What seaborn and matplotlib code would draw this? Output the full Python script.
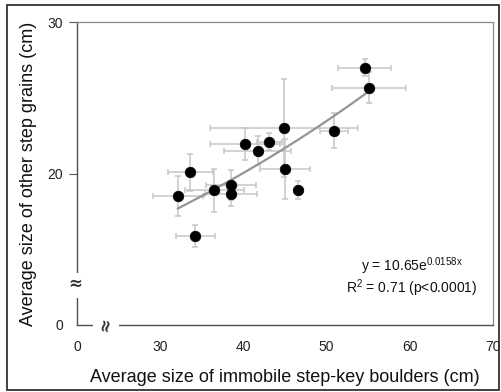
import numpy as np
import matplotlib
matplotlib.use("Agg")
import matplotlib.pyplot as plt
from matplotlib.patches import Rectangle
import seaborn as sns

# ---- data ----
boulder_size = [44.9, 40.2, 43.1, 41.7, 33.6, 45.0, 38.5, 36.5, 38.5, 32.1, 46.6, 34.2, 54.6, 55.1, 50.9]
grain_size = [23.0, 21.95, 22.1, 21.5, 20.07, 20.3, 19.25, 18.9, 18.66, 18.52, 18.9, 15.87, 26.98, 25.67, 22.83]
boulder_err = [8.9, 4.2, 1.5, 4.0, 2.7, 2.95, 3.0, 3.55, 3.1, 3.0, 0.4, 2.35, 3.2, 4.4, 1.7]
grain_err = [3.23, 1.08, 0.55, 0.96, 1.25, 2.0, 1.0, 1.43, 0.8, 1.3, 0.6, 0.7, 0.55, 1.02, 1.15]
fit_a = 10.65
fit_b = 0.0158
x_ticks = [0, 30, 40, 50, 60, 70]
y_ticks = [0, 20, 30]

sns.set_style("white")
plt.rcParams['font.family'] = ['Liberation Sans', 'DejaVu Sans']
plt.rcParams['mathtext.fontset'] = 'custom'
plt.rcParams['mathtext.rm'] = 'Liberation Sans'
plt.rcParams['mathtext.it'] = 'Liberation Sans:italic'

W, H = 502, 392
fig = plt.figure(figsize=(W / 100, H / 100), dpi=100)
L, R, T, B = 77, 493, 22, 325
ax = fig.add_axes([L / W, 1 - B / H, (R - L) / W, (B - T) / H])

# error bars
ax.errorbar(boulder_size, grain_size, xerr=boulder_err, yerr=grain_err, fmt='none',
            ecolor='#c6c6c6', elinewidth=1.1, capsize=2.5, capthick=1.1, zorder=1)

# fitted curve from the stated equation
xf = np.linspace(min(boulder_size), max(boulder_size), 100)
yf = fit_a * np.exp(fit_b * xf)
sns.lineplot(x=xf, y=yf, ax=ax, color='#959595', linewidth=1.6, zorder=2)

# points
sns.scatterplot(x=boulder_size, y=grain_size, ax=ax, color='black', s=58,
                edgecolor='black', linewidth=0.5, zorder=3)


# broken-axis scales
def fx(v):
    v = np.asarray(v, float)
    return np.where(v >= 25, v, 20 + v * 0.2)


def ix(v):
    v = np.asarray(v, float)
    return np.where(v >= 25, v, (v - 20) / 0.2)


def fy(v):
    v = np.asarray(v, float)
    return np.where(v >= 14, v, 10 + v * 4 / 14)


def iy(v):
    v = np.asarray(v, float)
    return np.where(v >= 14, v, (v - 10) * 14 / 4)


ax.set_xscale('function', functions=(fx, ix))
ax.set_yscale('function', functions=(fy, iy))
ax.set_xlim(0, 70)
ax.set_ylim(0, 30)
ax.set_xticks(x_ticks)
ax.set_xticklabels([str(t) for t in x_ticks])
ax.set_yticks(y_ticks)
ax.set_yticklabels([str(t) for t in y_ticks])
ax.minorticks_off()

ax.tick_params(axis='x', direction='in', length=4, width=0.8, color='#888888',
               labelsize=10, pad=11, labelcolor='#222222')
ax.tick_params(axis='y', direction='out', length=5.5, width=0.8, color='#555555',
               labelsize=10, pad=4.5, labelcolor='#222222', left=True)
ax.yaxis.get_major_ticks()[0].tick1line.set_visible(False)
xt = ax.xaxis.get_major_ticks()
xt[0].tick1line.set_visible(False)
xt[-1].tick1line.set_visible(False)

for side, col, lw in [('left', '#505050', 1.0), ('bottom', '#505050', 1.0),
                      ('top', '#8a8a8a', 0.9), ('right', '#8a8a8a', 0.9)]:
    ax.spines[side].set_visible(True)
    ax.spines[side].set_color(col)
    ax.spines[side].set_linewidth(lw)

ax.set_xlabel("Average size of immobile step-key boulders (cm)", fontsize=13,
              color='#111111', va='baseline')
ax.xaxis.set_label_coords(0.5, (B - 382) / (B - T))
ax.set_ylabel("Average size of other step grains (cm)", fontsize=13,
              color='#111111', va='center')
ax.yaxis.set_label_coords((28.5 - L) / (R - L), 0.5)

# axis break marks
ax.add_patch(Rectangle((-0.012, (B - 298) / (B - T)), 0.024, 25 / (B - T),
                       transform=ax.transAxes, facecolor='white', edgecolor='none',
                       clip_on=False, zorder=5))
ax.add_patch(Rectangle(((93 - L) / (R - L), -0.012), 26 / (R - L), 0.024,
                       transform=ax.transAxes, facecolor='white', edgecolor='none',
                       clip_on=False, zorder=5))
ax.text(-0.004, (B - 284) / (B - T), "≈", transform=ax.transAxes, ha='center', va='center',
        fontsize=12, fontweight='bold', family='DejaVu Sans', color='#333333', zorder=6,
        clip_on=False)
ax.text((105 - L) / (R - L), 0.0, "≈", transform=ax.transAxes, ha='center', va='center',
        fontsize=12, fontweight='bold', family='DejaVu Sans', color='#333333', zorder=6,
        rotation=80, clip_on=False)

# equation annotation
ax.text((412 - L) / (R - L), (B - 271) / (B - T), r"y = 10.65e$^{\mathrm{0.0158x}}$",
        transform=ax.transAxes, ha='center', va='baseline', fontsize=10, color='#111111')
ax.text((412 - L) / (R - L), (B - 293) / (B - T), r"R$^{\mathrm{2}}$ = 0.71 (p<0.0001)",
        transform=ax.transAxes, ha='center', va='baseline', fontsize=10, color='#111111')

# outer frame
fig.patches.append(Rectangle((7 / W, 1 - 390 / H), 492 / W, 385 / H, transform=fig.transFigure,
                             fill=False, edgecolor='#333333', linewidth=1.3))

fig.savefig("out.png", dpi=100)
